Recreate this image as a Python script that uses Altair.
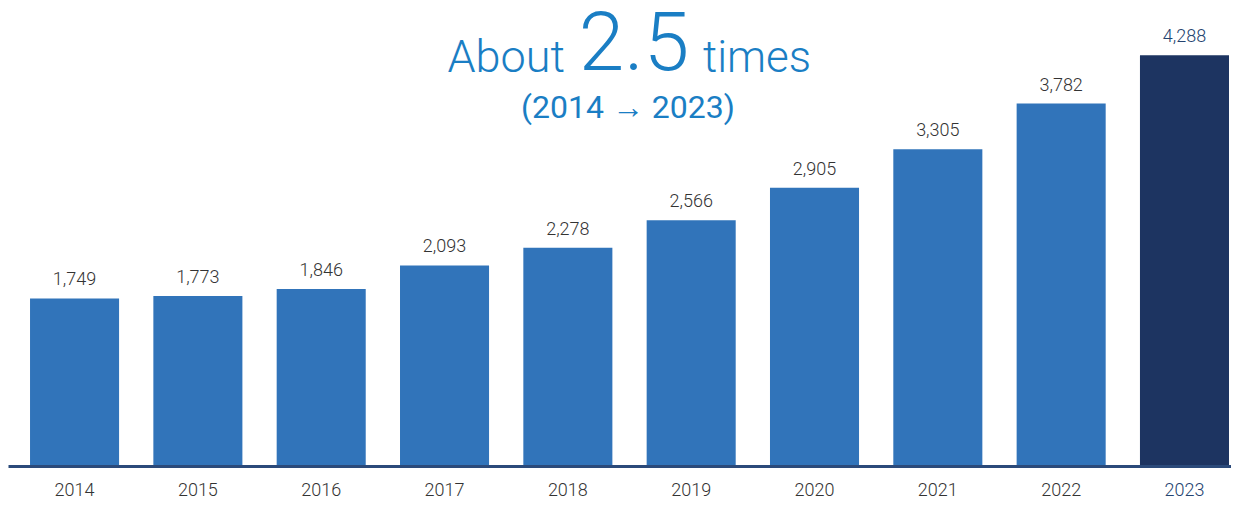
import altair as alt
import pandas as pd

years = ["2014", "2015", "2016", "2017", "2018", "2019", "2020", "2021", "2022", "2023"]
values = [1749, 1773, 1846, 2093, 2278, 2566, 2905, 3305, 3782, 4288]
highlight = ["no"] * 9 + ["yes"]

title_parts = ["About", "2.5", "times"]
subtitle = "(2014 \u2192 2023)"

df = pd.DataFrame({"year": years, "value": values, "hl": highlight})

FONT = "Roboto"
BLUE = "#3174BA"
NAVY = "#1D3461"
TITLE_BLUE = "#1A7EC4"

x = alt.X(
    "year:N",
    sort=years,
    scale=alt.Scale(paddingInner=0.278, paddingOuter=0.0974, align=0.917, round=False),
    axis=alt.Axis(
        title=None,
        labelAngle=0,
        ticks=False,
        domainColor="#2B4A7A",
        domainWidth=3,
        labelFont=FONT,
        labelFontSize=18,
        labelFontWeight=300,
        labelPadding=15,
        labelColor={"condition": {"test": "datum.value == '2023'", "value": "#24436F"}, "value": "#333333"},
        zindex=1,
    ),
)
y = alt.Y("value:Q", scale=alt.Scale(domain=[0, 4780]), axis=None)

color = alt.Color("hl:N", scale=alt.Scale(domain=["no", "yes"], range=[BLUE, NAVY]), legend=None)

bars = alt.Chart(df).mark_bar().encode(x=x, y=y, color=color)

labels = alt.Chart(df).mark_text(baseline="alphabetic", dy=-13, font=FONT, fontSize=18, fontWeight=300).encode(
    x=x,
    y=y,
    text=alt.Text("value:Q", format=","),
    color=alt.condition(alt.datum.hl == "yes", alt.value("#24436F"), alt.value("#333333")),
)

about = alt.Chart(pd.DataFrame({"t": [title_parts[0]]})).mark_text(
    align="right", baseline="alphabetic", font=FONT, fontSize=45, fontWeight=300, color=TITLE_BLUE
).encode(text="t:N", x=alt.value(557), y=alt.value(64))
big = alt.Chart(pd.DataFrame({"t": [title_parts[1]]})).mark_text(
    align="center", baseline="alphabetic", font=FONT, fontSize=82, fontWeight=300, color=TITLE_BLUE
).encode(text="t:N", x=alt.value(626), y=alt.value(62))
times = alt.Chart(pd.DataFrame({"t": [title_parts[2]]})).mark_text(
    align="left", baseline="alphabetic", font=FONT, fontSize=44, fontWeight=300, color=TITLE_BLUE
).encode(text="t:N", x=alt.value(695), y=alt.value(64))
sub = alt.Chart(pd.DataFrame({"t": [subtitle]})).mark_text(
    align="center", baseline="alphabetic", font=FONT, fontSize=32, fontWeight=400, color=TITLE_BLUE
).encode(text="t:N", x=alt.value(620), y=alt.value(110))

chart = alt.layer(bars, labels, about, big, times, sub).properties(
    width=1223,
    height=458,
    padding={"left": 0, "top": 0, "right": 0, "bottom": 45},
    autosize=alt.AutoSizeParams(type="none"),
).configure_view(stroke=None)

chart.save("out.html", embed_options={"renderer": "svg", "actions": False})
